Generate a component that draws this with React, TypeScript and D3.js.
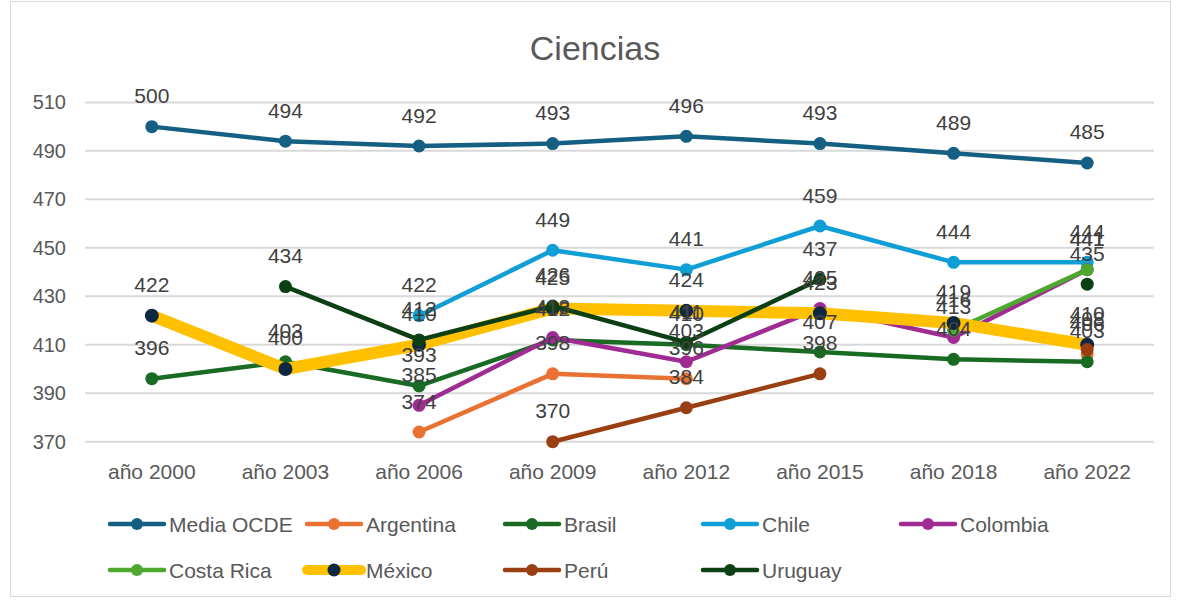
import React from "react";
import * as d3 from "d3";

const years = ["año 2000", "año 2003", "año 2006", "año 2009", "año 2012", "año 2015", "año 2018", "año 2022"];
const yTicks = [370, 390, 410, 430, 450, 470, 490, 510];

const mediaOCDE = [500, 494, 492, 493, 496, 493, 489, 485];
const argentina = [null, null, 374, 398, 396, null, null, 406];
const brasil = [396, 403, 393, 412, 410, 407, 404, 403];
const chile = [null, null, 422, 449, 441, 459, 444, 444];
const colombia = [null, null, 385, 413, 403, 425, 413, 441];
const costaRica = [null, null, null, null, null, null, 416, 441];
const mexico = [422, 400, 410, 425, 424, 423, 419, 410];
const peru = [null, null, null, 370, 384, 398, null, 408];
const uruguay = [null, 434, 412, 426, 411, 437, null, 435];

type S = { name: string; values: (number | null)[]; line: string; marker: string; width: number; r: number };

const series: S[] = [
  { name: "Media OCDE", values: mediaOCDE, line: "#156082", marker: "#156082", width: 4.5, r: 6.5 },
  { name: "Argentina", values: argentina, line: "#E97132", marker: "#E97132", width: 4.5, r: 6.5 },
  { name: "Brasil", values: brasil, line: "#196B24", marker: "#196B24", width: 4.5, r: 6.5 },
  { name: "Chile", values: chile, line: "#0F9ED5", marker: "#0F9ED5", width: 4.5, r: 6.5 },
  { name: "Colombia", values: colombia, line: "#A02B93", marker: "#A02B93", width: 4.5, r: 6.5 },
  { name: "Costa Rica", values: costaRica, line: "#4EA72E", marker: "#4EA72E", width: 4.5, r: 6.5 },
  { name: "México", values: mexico, line: "#FFC000", marker: "#0E2841", width: 12, r: 7 },
  { name: "Perú", values: peru, line: "#9A3F12", marker: "#9A3F12", width: 4.5, r: 6.5 },
  { name: "Uruguay", values: uruguay, line: "#0D3F14", marker: "#0D3F14", width: 4.5, r: 6.5 },
];

const FONT = "'Liberation Sans', Arial, sans-serif";

export default function App() {
  const W = 1180, H = 602;
  const x = d3.scaleBand<string>().domain(years).range([85, 1154]).padding(0);
  const cx = (i: number) => (x(years[i]) as number) + x.bandwidth() / 2;
  const y = d3.scaleLinear().domain([370, 510]).range([441.7, 102.4]);

  const lineGen = d3
    .line<number | null>()
    .defined((d) => d !== null)
    .x((_, i) => cx(i))
    .y((d) => y(d as number));

  const legendCols = [110, 307, 505, 703, 901];
  const legendRows = [524, 570];

  return (
    <svg width={W} height={H} style={{ position: "absolute", left: 0, top: 0, background: "#fff" }} fontFamily={FONT}>
      <rect x={10.5} y={1.5} width={1160} height={595} fill="#fff" stroke="#D9D9D9" strokeWidth={1} />
      <text x={595} y={48} textAnchor="middle" dominantBaseline="central" fontSize={34} fill="#595959">
        Ciencias
      </text>
      {yTicks.map((t) => (
        <g key={t}>
          <line x1={85} x2={1154} y1={y(t)} y2={y(t)} stroke="#D9D9D9" strokeWidth={2} />
          <text x={66} y={y(t)} textAnchor="end" dominantBaseline="central" fontSize={20} fill="#595959">
            {t}
          </text>
        </g>
      ))}
      {years.map((yr, i) => (
        <text key={yr} x={cx(i)} y={471} textAnchor="middle" dominantBaseline="central" fontSize={21} fill="#595959">
          {yr}
        </text>
      ))}
      {series.map((s) => (
        <g key={s.name}>
          <path d={lineGen(s.values) || ""} fill="none" stroke={s.line} strokeWidth={s.width} strokeLinejoin="round" strokeLinecap="round" />
          {s.values.map((v, i) =>
            v === null ? null : <circle key={i} cx={cx(i)} cy={y(v)} r={s.r} fill={s.marker} />
          )}
        </g>
      ))}
      {series.map((s) => (
        <g key={s.name + "-lbl"}>
          {s.values.map((v, i) =>
            v === null ? null : (
              <text key={i} x={cx(i)} y={y(v) - 31} textAnchor="middle" dominantBaseline="central" fontSize={21} fill="#404040">
                {v}
              </text>
            )
          )}
        </g>
      ))}
      {series.map((s, k) => {
        const lx = legendCols[k % 5];
        const ly = legendRows[Math.floor(k / 5)];
        return (
          <g key={s.name + "-leg"}>
            <line x1={lx} x2={lx + 54} y1={ly} y2={ly} stroke={s.line} strokeWidth={s.width === 12 ? 10 : 4.5} strokeLinecap="round" />
            <circle cx={lx + 27} cy={ly} r={s.width === 12 ? 6.5 : 6} fill={s.marker} />
            <text x={lx + 59} y={ly} dominantBaseline="central" fontSize={21} fill="#595959">
              {s.name}
            </text>
          </g>
        );
      })}
    </svg>
  );
}
